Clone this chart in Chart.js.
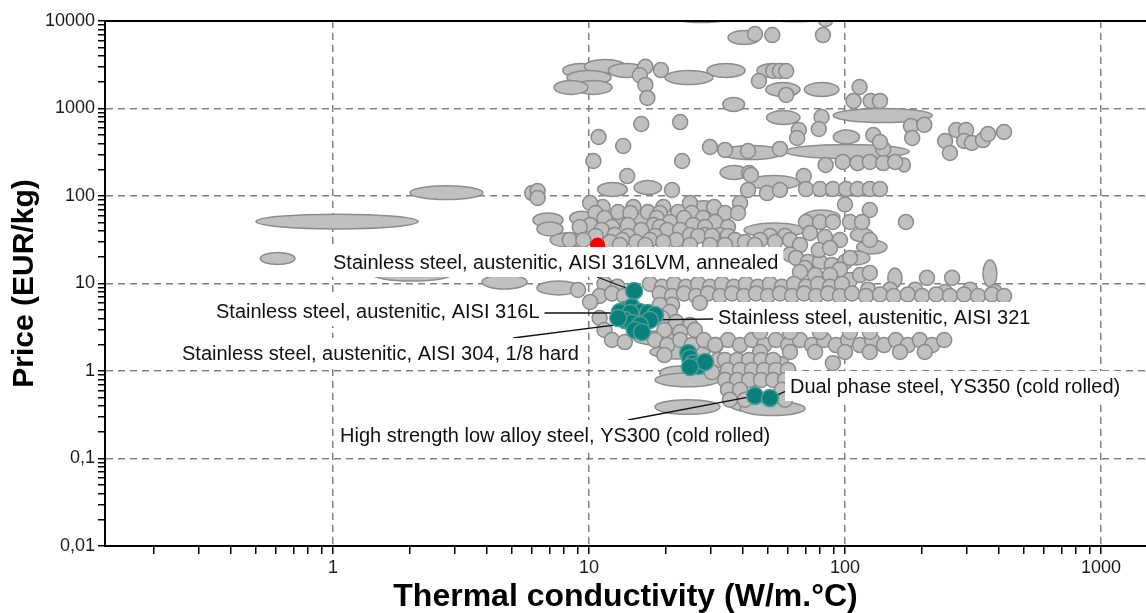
<!DOCTYPE html>
<html lang="en">
<head>
<meta charset="UTF-8">
<title>Price vs thermal conductivity</title>
<script src="https://cdn.jsdelivr.net/npm/chart.js@4.4.1/dist/chart.umd.min.js"></script>
<style>
  html, body { margin: 0; padding: 0; background: #fff; }
  #wrap { width: 1146px; height: 613px; }
</style>
</head>
<body>
<div id="wrap"><canvas id="chart" width="1146" height="613"></canvas></div>
<script>
// Thermal conductivity (W/m.°C) vs price (EUR/kg)

// property ranges drawn as ellipses: [kMin, kMax, priceMin, priceMax]
const greyRanges = [
  [2.0, 3.85, 91, 131], [0.5, 2.15, 42, 62], [0.52, 0.71, 16.5, 22.6],
  [1.42, 2.92, 10.7, 15.4], [3.82, 5.73, 8.65, 12.5], [6.26, 9.22, 7.4, 10.7],
  [6.04, 7.91, 44, 64], [6.26, 7.91, 35, 50.5], [7.05, 9.8, 26, 38],
  [20.4, 37.2, 9600, 13900], [46.6, 87.3, 9800, 14300], [34.9, 46.6, 5380, 7780],
  [7.9, 11, 2260, 3270], [9.6, 13.9, 2510, 3630], [8.2, 12.2, 1880, 2720],
  [8.8, 12.3, 1450, 2090], [7.3, 9.9, 1450, 2090], [11.9, 16.6, 2260, 3270],
  [19.8, 30.5, 1880, 2720], [28.9, 40.7, 2260, 3270], [45.3, 60.1, 2260, 3270],
  [49, 66.7, 1370, 1980], [69.4, 94.7, 1370, 1980], [90, 219, 692, 1000],
  [33.3, 40.5, 925, 1340], [49.4, 66.7, 656, 948], [90, 114, 393, 568],
  [10.8, 14.1, 98.6, 143], [15, 19.2, 104, 150], [32.5, 57.3, 261, 378],
  [58.5, 178, 268, 388], [32.5, 41.7, 154, 223], [41.7, 66.7, 119, 171],
  [161, 180, 188, 272], [24.8, 31.6, 61, 88], [8.4, 10.4, 46.6, 67],
  [12.4, 17.3, 44, 64], [40.3, 69.8, 34, 49], [68.5, 95.5, 48, 69],
  [105, 129, 30, 43], [111, 146, 21.7, 31.4], [98, 125, 16.3, 23.5],
  [147, 167, 8.9, 15], [346, 392, 9.1, 18.6],
  [14.9, 22.1, 1.98, 2.87], [17.3, 29.7, 1.37, 1.98], [18.9, 27.1, 0.79, 1.14],
  [18.1, 32.5, 0.66, 0.95], [33.7, 52, 0.66, 0.95], [35, 60, 1.1, 1.55],
  [18.1, 32.5, 0.32, 0.47], [35.5, 55.7, 0.34, 0.49], [38.9, 69.8, 0.31, 0.45]
];

// single materials [k, price]
const greyHigh = [
  [84, 10500], [44.5, 7100], [52, 6900], [82, 6900],
  [16.6, 3000], [15.8, 2400], [19.1, 2750], [16.6, 1860], [16.9, 1320],
  [52.4, 2680], [55.7, 2680], [58.9, 2680], [46.1, 2060], [58.9, 1430],
  [114, 1760], [108, 1220], [126, 1220], [137, 1220],
  [181, 630], [204, 650], [183, 460], [81, 800], [79, 583],
  [16, 665], [22.7, 700], [10.9, 472], [13.6, 373], [10.4, 251], [23.1, 251],
  [14.1, 169], [21.1, 117], [29.7, 363], [34, 336], [41.8, 327], [55.7, 345],
  [66, 568], [65, 460], [141, 345], [42.2, 183], [41.8, 117], [49.6, 108],
  [55.7, 117], [42.9, 174], [69, 169], [98, 245], [112, 238], [125, 245],
  [141, 238], [157, 245], [84, 226], [70.4, 120], [79.8, 120], [89.7, 120],
  [101, 120], [112, 120], [125, 120], [137, 120], [129, 498], [137, 414],
  [246, 425], [272, 568], [297, 568], [292, 425], [313, 403], [346, 436],
  [362, 511], [418, 539], [257, 310], [6.0, 108], [6.3, 114], [6.3, 95]
];

const greyMid = [
  [11.3, 74.8], [14.9, 74.8], [19.5, 74.8], [30.8, 74.8],
  [10.1, 83.2], [24.8, 83.2], [38.9, 83.2],
  [13.0, 65.6], [17.0, 65.6], [22.3, 65.6],
  [10.6, 63.9], [14.5, 63.9], [18.9, 63.9], [25.2, 63.9], [34.0, 63.9], [38.2, 63.9],
  [11.5, 56.1], [18.4, 56.1], [23.5, 56.1], [27.9, 56.1],
  [20.7, 50.5], [31.1, 50.5],
  [10.1, 46.6], [14.2, 46.6], [17.9, 46.6], [25.5, 46.6],
  [9.2, 44.2], [12.3, 44.2], [18.9, 44.2], [28.4, 44.2], [34.9, 44.2],
  [11.2, 40.9], [16.0, 40.9], [20.2, 40.9], [22.7, 40.9],
  [12.6, 35.8], [24.8, 35.8], [28.4, 35.8], [32.5, 35.8],
  [10.6, 35], [14.2, 35], [18.1, 35], [26.7, 35], [30.2, 35], [34.9, 35], [50.9, 35], [58.3, 35],
  [8.4, 31.4], [9.5, 31.4], [13.5, 31.4], [17.3, 31.4], [21.9, 31.4],
  [37.2, 31.4], [46.6, 31.4], [61, 31.4],
  [12.1, 29.8], [15.3, 29.8], [19.5, 29.8], [40.7, 29.8], [53.3, 29.8],
  [13.2, 27.5], [16.6, 27.5], [24.8, 27.5], [29.7, 27.5], [34.0, 27.5], [44.5, 27.5], [66.7, 27.5],
  [100, 80], [125, 69.2],
  [70.4, 50.5], [79.8, 50.5], [89.7, 50.5], [104.6, 50.5], [116.5, 50.5], [173, 50.5],
  [73, 37.8], [83.5, 34], [95.5, 31.4], [125, 31.4],
  [61, 21.5], [64.4, 19.6], [71.7, 17.6], [79.8, 17.6], [88.9, 16.3], [100, 17.6],
  [69.8, 15.0], [95.5, 14.5], [104.6, 11.0], [74.3, 9.6],
  [66.7, 13.5], [76.4, 12.5], [87.4, 12.5], [114.5, 12.5], [125, 13.2],
  [79, 24.1], [87.4, 25.5], [104.6, 19.6], [209, 11.6], [262, 11.6]
];

const greyLow = [
  [11.5, 9.9], [12.9, 9.2], [17.3, 9.9], [19.3, 9.2], [21.5, 9.9], [23.9, 9.2],
  [26.7, 9.9], [29.7, 9.2], [33.1, 9.9], [36.8, 9.2], [41.0, 9.9], [45.7, 9.2],
  [50.9, 9.9], [56.7, 9.2], [63.2, 9.9], [70.4, 9.2], [78.5, 9.9], [87.4, 9.2], [97.3, 9.9],
  [123, 8.5], [150, 8.5], [188, 8.5], [246, 8.0], [308, 8.5], [385, 8.0],
  [11.0, 7.2], [12.3, 7.7], [13.7, 7.2], [18.9, 7.7], [21.1, 7.2], [23.5, 7.7],
  [26.2, 7.2], [29.2, 7.7], [32.5, 7.2], [36.2, 7.7], [40.3, 7.2], [44.9, 7.7],
  [50.0, 7.2], [55.7, 7.7], [62.1, 7.2], [69.2, 7.7], [77.1, 7.2], [85.9, 7.7],
  [95.5, 7.2], [106.5, 7.7], [120.8, 7.2], [137, 7.5], [155, 7.2], [176, 7.5],
  [200, 7.2], [227, 7.5], [257, 7.2], [292, 7.5], [331, 7.2], [375, 7.5], [418, 7.2],
  [21.1, 5.7], [27.1, 6.0],
  [9.06, 8.43], [10.1, 6.15], [11.0, 4.03], [11.5, 2.94], [12.3, 2.26], [13.8, 2.14],
  [18.9, 5.68], [20.7, 4.72], [19.3, 4.03], [21.9, 3.63], [24.8, 3.36],
  [19.7, 2.94], [22.7, 2.79], [25.9, 2.94],
  [18.1, 2.26], [20.2, 1.98], [22.7, 2.26], [25.2, 1.98], [28.1, 2.26], [31.3, 1.98],
  [34.9, 2.26], [38.9, 1.98], [43.3, 2.26], [48.3, 1.98], [53.7, 2.26], [59.9, 1.98],
  [66.7, 2.26], [74.3, 1.98], [82.8, 2.26], [92.2, 1.98], [102.8, 2.26], [114.5, 1.98],
  [127.5, 2.26], [142, 1.98], [158, 2.26], [176, 1.98], [196, 2.26], [219, 1.98], [244, 2.26],
  [46.6, 2.79], [61, 2.79], [79.8, 2.79], [104.6, 2.79], [125, 2.79],
  [46.6, 1.65], [61, 1.65], [76.4, 1.65], [100, 1.65], [125, 1.65], [164, 1.65], [205, 1.65],
  [19.7, 1.52], [31.1, 1.98], [31.9, 1.34], [30.2, 0.97],
  [34.0, 1.34], [37.9, 1.34], [42.2, 1.34], [47.0, 1.34], [52.4, 1.34],
  [34.9, 1.03], [38.9, 1.03], [43.3, 1.03], [48.3, 1.03], [53.7, 1.03], [59.9, 1.03],
  [34.0, 0.79], [37.9, 0.79], [42.2, 0.79], [47.0, 0.79], [52.4, 0.79], [58.3, 0.79],
  [34.9, 0.61], [38.9, 0.61], [56.7, 0.61], [35.5, 0.47], [40.7, 0.47], [58.3, 0.47],
  [89.7, 1.23]
];

// highlighted steels
const tealPoints = [
  [15.0, 8.21],
  [13.8, 4.98], [14.7, 5.39], [15.8, 4.72], [17.0, 4.60], [18.1, 4.37], [13.2, 4.72], [14.5, 4.6], [17.3, 3.83],
  [13.8, 3.83], [14.7, 3.54], [15.8, 3.36], [15.1, 2.94], [16.1, 2.79], [13.0, 4.03],
  [24.4, 1.61], [24.8, 1.41], [25.5, 1.23], [26.7, 1.14], [28.4, 1.27], [24.8, 1.11],
  [44.5, 0.52], [50.9, 0.49]
];
const redPoints = [[10.8, 27.5]];

const calloutText = [
  'Stainless steel, austenitic, AISI 316LVM, annealed',
  'Stainless steel, austenitic, AISI 316L',
  'Stainless steel, austenitic, AISI 321',
  'Stainless steel, austenitic, AISI 304, 1/8 hard',
  'Dual phase steel, YS350 (cold rolled)',
  'High strength low alloy steel, YS300 (cold rolled)'
];
const calloutK = [15.0, 14.5, 17.3, 14.7, 50.9, 44.5];
const calloutP = [8.21, 4.6, 3.83, 3.54, 0.49, 0.52];

const xTitle = 'Thermal conductivity (W/m.°C)';
const yTitle = 'Price (EUR/kg)';

// layout of the callout boxes (pixels): text left, text middle, leader start
const calloutLayout = [
  {x: 333, y: 262, lx: 597, ly: 277},
  {x: 216, y: 311, lx: 542, ly: 313},
  {x: 718, y: 317, lx: 713, ly: 319},
  {x: 182, y: 353, lx: 513, ly: 338},
  {x: 790, y: 386, lx: 786, ly: 391},
  {x: 340, y: 435, lx: 628, ly: 420}
];

const FONT = '"Liberation Sans", Arial, sans-serif';
const GREY = '#c0c0c0';
const GREY_EDGE = '#8c8c8c';

const toXY = pts => pts.map(([x, y]) => ({x, y}));

function logTicks(min, max) {
  const out = [];
  for (let e = -3; e <= 5; e++) {
    for (let m = 1; m <= 9; m++) {
      const v = parseFloat((m * Math.pow(10, e)).toPrecision(3));
      if (v >= min * 0.999 && v <= max * 1.001) out.push({value: v});
    }
  }
  return out;
}
function isDecade(v) {
  const l = Math.log10(v);
  return Math.abs(l - Math.round(l)) < 1e-6;
}
function decadeLabel(v) {
  if (!isDecade(v)) return '';
  return v >= 1 ? String(Math.round(v)) : String(v).replace('.', ',');
}

const rangePlugin = {
  id: 'ranges',
  beforeDatasetsDraw(chart) {
    const {ctx, chartArea: a, scales: {x, y}} = chart;
    ctx.save();
    ctx.beginPath();
    ctx.rect(a.left, a.top, a.right - a.left, a.bottom - a.top);
    ctx.clip();
    ctx.fillStyle = GREY;
    ctx.strokeStyle = GREY_EDGE;
    ctx.lineWidth = 1.5;
    greyRanges.forEach(([k0, k1, p0, p1]) => {
      const x0 = x.getPixelForValue(k0), x1 = x.getPixelForValue(k1);
      const y0 = y.getPixelForValue(p0), y1 = y.getPixelForValue(p1);
      ctx.beginPath();
      ctx.ellipse((x0 + x1) / 2, (y0 + y1) / 2, Math.abs(x1 - x0) / 2, Math.abs(y0 - y1) / 2, 0, 0, Math.PI * 2);
      ctx.fill();
      ctx.stroke();
    });
    ctx.restore();
  }
};

const calloutPlugin = {
  id: 'callouts',
  beforeDatasetDraw(chart, args) {
    if (args.index !== 1) return; // leaders go under the teal points
    const {ctx, scales: {x, y}} = chart;
    ctx.save();
    ctx.strokeStyle = '#111';
    ctx.lineWidth = 1.3;
    calloutText.forEach((t, i) => {
      const b = calloutLayout[i];
      ctx.beginPath();
      ctx.moveTo(b.lx, b.ly);
      ctx.lineTo(x.getPixelForValue(calloutK[i]), y.getPixelForValue(calloutP[i]));
      ctx.stroke();
    });
    ctx.restore();
  },
  afterDatasetsDraw(chart) {
    const {ctx} = chart;
    ctx.save();
    ctx.font = '20px ' + FONT;
    ctx.textBaseline = 'middle';
    calloutText.forEach((t, i) => {
      const b = calloutLayout[i];
      const w = ctx.measureText(t).width;
      ctx.fillStyle = '#fff';
      ctx.fillRect(b.x - 5, b.y - 15, w + 10, 30);
      ctx.fillStyle = '#111';
      ctx.fillText(t, b.x, b.y + 1);
    });
    ctx.restore();
  },
  afterDraw(chart) {
    // top frame line
    const {ctx, chartArea: a} = chart;
    ctx.save();
    ctx.strokeStyle = '#000';
    ctx.lineWidth = 2;
    ctx.beginPath();
    ctx.moveTo(a.left - 1, a.top);
    ctx.lineTo(a.right, a.top);
    ctx.stroke();
    ctx.restore();
  }
};

const gridColor = ctx => (ctx.tick && isDecade(ctx.tick.value)) ? '#808080' : 'rgba(0,0,0,0)';

new Chart(document.getElementById('chart'), {
  type: 'scatter',
  data: {
    datasets: [
      {
        data: toXY([...greyHigh, ...greyMid, ...greyLow]),
        backgroundColor: GREY, borderColor: GREY_EDGE, borderWidth: 1.5,
        pointRadius: 7.5, order: 3, clip: 0
      },
      {
        data: toXY(tealPoints),
        backgroundColor: '#0a807c', borderColor: '#4d9e9b', borderWidth: 1.5,
        pointRadius: 8.5, order: 2, clip: 0
      },
      {
        data: toXY(redPoints),
        backgroundColor: '#ff0000', borderColor: '#e00000', borderWidth: 1,
        pointRadius: 7, order: 1, clip: 0
      }
    ]
  },
  options: {
    responsive: false,
    devicePixelRatio: 1,
    animation: false,
    events: [],
    layout: {autoPadding: false, padding: {top: 21, right: 0, bottom: 0, left: 0}},
    plugins: {legend: {display: false}, tooltip: {enabled: false}},
    scales: {
      x: {
        type: 'logarithmic',
        min: 0.1286, max: 1499,
        afterBuildTicks: s => { s.ticks = logTicks(s.min, s.max); },
        afterFit: s => { s.height = 67; s.paddingLeft = 0; s.paddingRight = 0; },
        ticks: {
          autoSkip: false, maxRotation: 0, padding: 3,
          color: '#1a1a1a', font: {family: FONT, size: 18},
          callback: v => decadeLabel(v)
        },
        grid: {color: gridColor, lineWidth: 1.5, tickColor: '#000', tickLength: 8, tickWidth: 1.5},
        border: {display: true, color: '#000', width: 2, dash: [7, 5]},
        title: {
          display: true, text: xTitle, color: '#000',
          font: {family: FONT, size: 32, weight: 'bold', lineHeight: 1},
          padding: {top: 0, bottom: 0}
        }
      },
      y: {
        type: 'logarithmic',
        min: 0.01, max: 10000,
        afterBuildTicks: s => { s.ticks = logTicks(s.min, s.max); },
        afterFit: s => { s.width = 105; },
        ticks: {
          autoSkip: false, padding: 3,
          color: '#1a1a1a', font: {family: FONT, size: 18},
          callback: v => decadeLabel(v)
        },
        grid: {color: gridColor, lineWidth: 1.5, tickColor: '#000', tickLength: 7, tickWidth: 1.5},
        border: {display: true, color: '#000', width: 2, dash: [7, 5]},
        title: {
          display: true, text: yTitle, color: '#000',
          font: {family: FONT, size: 30, weight: 'bold', lineHeight: 1},
          padding: {top: 10, bottom: 0}
        }
      }
    }
  },
  plugins: [rangePlugin, calloutPlugin]
});
</script>
</body>
</html>
